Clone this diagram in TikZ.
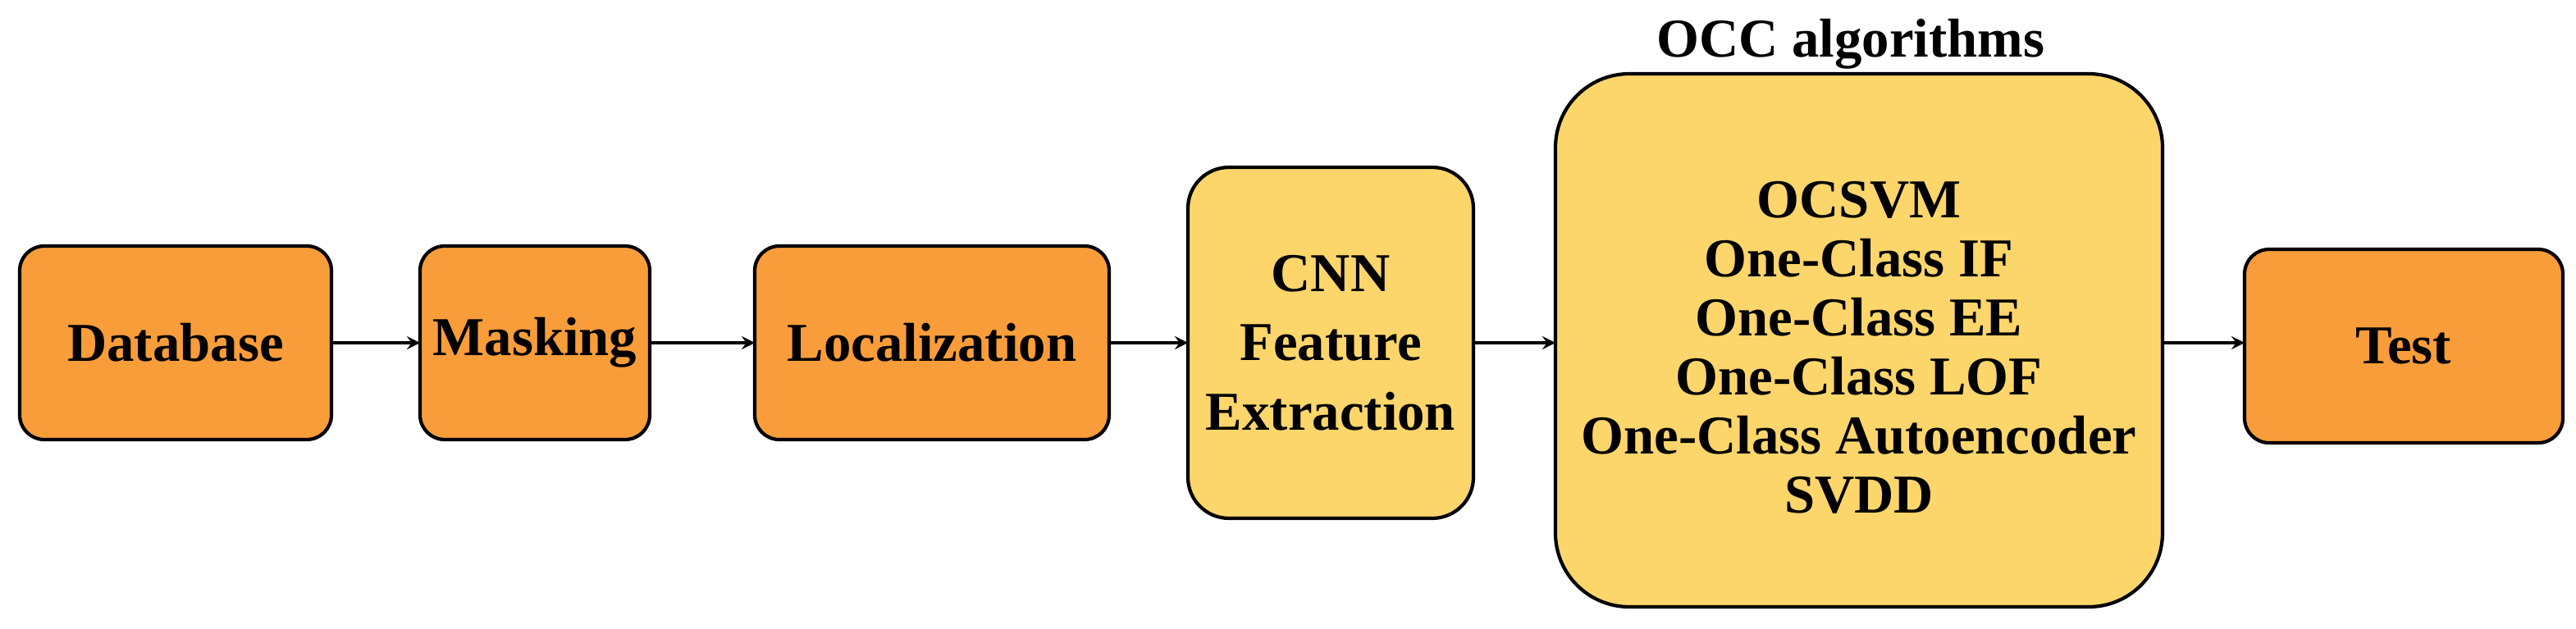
\documentclass[tikz,border=0pt]{standalone}
\usepackage{fontspec}
\setmainfont{Liberation Serif}
\begin{document}
\begin{tikzpicture}[x=0.02cm,y=-0.02cm,
  lbl/.style={font=\fontsize{19}{24}\selectfont\bfseries,align=center},
  org/.style={draw=black,line width=1.2pt,fill=orange1,rounded corners=0.3cm},
  yel/.style={draw=black,line width=1.2pt,fill=yellow1},
  arr/.style={-stealth,line width=1pt}]
\definecolor{orange1}{HTML}{F99D3A}
\definecolor{yellow1}{HTML}{FDD66B}
\useasboundingbox (0,0) rectangle (1570,383.5);
\draw[org] (12,150) rectangle (202,268);
\node[lbl] (db) at (107,209) {Database};
\coordinate (dbR) at (202,209);
\draw[org] (256,150) rectangle (396,268);
\node[lbl] (mk) at (326,209) {Masking};
\coordinate (mkL) at (256,209); \coordinate (mkR) at (396,209);
\draw[org] (460,150) rectangle (676,268);
\node[lbl] (lc) at (568,209) {Localization};
\coordinate (lcL) at (460,209); \coordinate (lcR) at (676,209);
\draw[yel,rounded corners=0.5cm] (724,102) rectangle (898,316);
\node[lbl] (cnn) at (811,209) {CNN\\Feature\\Extraction};
\coordinate (cnL) at (724,209); \coordinate (cnR) at (898,209);
\draw[yel,rounded corners=0.9cm] (948,45) rectangle (1318,370);
\node[lbl,font=\fontsize{19}{20.5}\selectfont\bfseries] (occ) at (1133,212) {OCSVM\\One-Class IF\\One-Class EE\\One-Class LOF\\One-Class Autoencoder\\SVDD};
\node[lbl] (title) at (1128,27) {OCC algorithms};
\coordinate (ocL) at (948,209); \coordinate (ocR) at (1318,209);
\draw[org] (1368,152) rectangle (1562,270);
\node[lbl] (ts) at (1465,211) {Test};
\coordinate (tsL) at (1368,209);
\draw[arr] (dbR) -- (mkL);
\draw[arr] (mkR) -- (lcL);
\draw[arr] (lcR) -- (cnL);
\draw[arr] (cnR) -- (ocL);
\draw[arr] (ocR) -- (tsL);
\end{tikzpicture}
\end{document}
